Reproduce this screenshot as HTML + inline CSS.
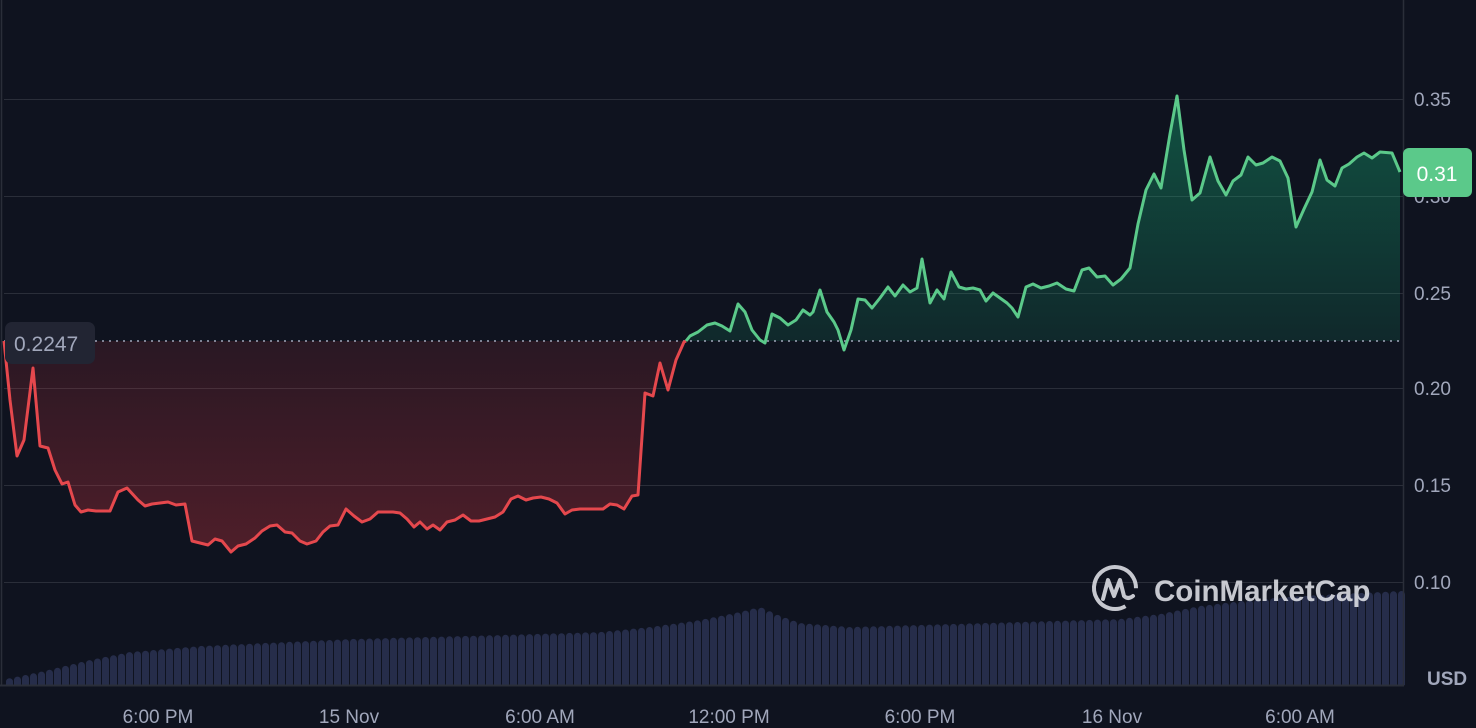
<!DOCTYPE html>
<html><head><meta charset="utf-8"><style>
html,body{margin:0;padding:0;background:#0f131f;}
svg{display:block}
text{font-family:"Liberation Sans",sans-serif;}
</style></head><body>
<svg id="s" width="1476" height="728" viewBox="0 0 1476 728" xmlns="http://www.w3.org/2000/svg">
<defs>
<linearGradient id="gr" x1="0" y1="341" x2="0" y2="560" gradientUnits="userSpaceOnUse">
<stop offset="0" stop-color="#ea3943" stop-opacity="0.12"/><stop offset="1" stop-color="#ea3943" stop-opacity="0.3"/></linearGradient>
<linearGradient id="gg" x1="0" y1="96" x2="0" y2="341" gradientUnits="userSpaceOnUse">
<stop offset="0" stop-color="#16c784" stop-opacity="0.35"/><stop offset="1" stop-color="#16c784" stop-opacity="0.12"/></linearGradient>
</defs>
<rect width="1476" height="728" fill="#0f131f"/>
<g stroke="#2a2e39" stroke-width="1">
<line x1="4" y1="99.5" x2="1403" y2="99.5"/><line x1="4" y1="196.5" x2="1403" y2="196.5"/>
<line x1="4" y1="293.5" x2="1403" y2="293.5"/><line x1="4" y1="388.5" x2="1403" y2="388.5"/>
<line x1="4" y1="485.5" x2="1403" y2="485.5"/><line x1="4" y1="582.5" x2="1403" y2="582.5"/>
</g>
<g id="vol" fill="#262d4a"></g>
<line x1="0" y1="685.5" x2="1404" y2="685.5" stroke="#2a2e39" stroke-width="2"/>
<line x1="1403.5" y1="0" x2="1403.5" y2="686" stroke="#2a2e39" stroke-width="1.5"/>
<line x1="1.5" y1="0" x2="1.5" y2="686" stroke="#2a2e39" stroke-width="1.5"/>
<path id="rf" fill="url(#gr)"/>
<path id="gf" fill="url(#gg)"/>
<line x1="4" y1="341" x2="1403" y2="341" stroke="#a1a7bb" stroke-width="1.5" stroke-dasharray="2 5"/>
<polyline id="rl" fill="none" stroke="#e5484d" stroke-width="3" stroke-linejoin="round"/>
<polyline id="gl" fill="none" stroke="#5bc98a" stroke-width="3" stroke-linejoin="round"/>
<g fill="#a1a7bb" font-size="19">
<text x="1414" y="106">0.35</text><text x="1414" y="203">0.30</text><text x="1414" y="300">0.25</text>
<text x="1414" y="395">0.20</text><text x="1414" y="492">0.15</text><text x="1414" y="589">0.10</text>
<text x="1427" y="685" font-weight="bold" font-size="19">USD</text>
</g>
<g fill="#a1a7bb" font-size="19" text-anchor="middle">
<text x="158" y="723">6:00 PM</text><text x="349" y="723">15 Nov</text><text x="540" y="723">6:00 AM</text>
<text x="729" y="723">12:00 PM</text><text x="920" y="723">6:00 PM</text><text x="1112" y="723">16 Nov</text><text x="1300" y="723">6:00 AM</text>
</g>
<rect x="1403" y="148" width="69" height="49" rx="6" fill="#5bc98a"/>
<text x="1437" y="181" text-anchor="middle" fill="#fff" font-size="21">0.31</text>
<rect x="5" y="322" width="90" height="42" rx="7" fill="#222533"/>
<text x="14" y="351" fill="#a1a7bb" font-size="21">0.2247</text>
<g opacity="0.85">
<circle cx="1115" cy="588" r="21" fill="none" stroke="#e6e8ee" stroke-width="4" stroke-dasharray="110 22" transform="rotate(60 1115 588)"/>
<path d="M1103 599 L1108 580 L1114 596 L1120 580 L1124 596 Q1128 600 1133 596" fill="none" stroke="#e6e8ee" stroke-width="4" stroke-linejoin="round" stroke-linecap="round"/>
<text x="1154" y="601" fill="#e6e8ee" font-size="29.5" font-weight="bold">CoinMarketCap</text>
</g>
</svg>
<script>
var R=[[4,341],[10,400],[17,456],[24,440],[33,368],[40,446],[48,448],[55,470],[62,484],[68,482],[75,505],[81,512],[88,510],[96,511],[110,511],[118,492],[127,488],[138,500],[145,506],[152,504],[168,502],[176,505],[185,504],[192,541],[200,543],[208,545],[215,539],[222,541],[231,552],[238,546],[246,544],[255,538],[262,531],[270,526],[277,525],[285,532],[292,533],[300,541],[307,544],[316,541],[323,532],[330,526],[338,525],[346,509],[354,516],[362,522],[370,519],[378,512],[393,512],[400,513],[407,519],[414,527],[420,522],[427,529],[433,525],[440,530],[447,522],[455,520],[463,515],[471,521],[479,521],[487,519],[495,517],[503,512],[511,499],[518,496],[526,500],[533,498],[541,497],[549,499],[557,503],[565,514],[572,510],[580,509],[593,509],[603,509],[610,504],[617,505],[624,509],[632,496],[638,495],[645,393],[653,396],[660,363],[668,390],[676,360],[684,342],[686,341]];
var G=[[686,341],[690,336],[698,332],[707,325],[715,323],[722,326],[730,331],[738,304],[745,312],[752,330],[760,340],[765,343],[772,314],[780,318],[788,325],[796,320],[803,310],[810,315],[813,312],[820,290],[827,312],[834,322],[838,330],[844,350],[851,330],[858,299],[865,300],[872,308],[880,298],[888,287],[895,296],[903,285],[910,292],[917,288],[922,259],[930,303],[937,290],[944,299],[951,272],[959,287],[966,289],[973,288],[980,290],[986,301],[993,293],[1000,298],[1007,303],[1012,308],[1018,317],[1026,287],[1033,284],[1041,288],[1049,286],[1057,283],[1066,289],[1074,291],[1082,270],[1089,268],[1097,277],[1105,276],[1113,285],[1121,279],[1130,268],[1138,224],[1146,190],[1154,174],[1161,188],[1170,134],[1177,96],[1184,150],[1192,200],[1200,193],[1210,157],[1218,181],[1226,195],[1233,181],[1241,175],[1248,157],[1256,165],[1263,163],[1272,157],[1280,161],[1288,178],[1296,227],[1304,209],[1312,192],[1320,160],[1327,180],[1335,186],[1342,168],[1349,164],[1357,157],[1364,153],[1372,158],[1380,152],[1392,153],[1400,172]];
function pts(a){return a.map(p=>p.join(',')).join(' ');}
document.getElementById('rl').setAttribute('points',pts(R));
document.getElementById('gl').setAttribute('points',pts(G));
document.getElementById('rf').setAttribute('d','M'+pts(R)+' L686,341 L4,341Z');
document.getElementById('gf').setAttribute('d','M'+pts(G)+' L1400,341 L686,341Z');
var K=[[6,679],[40,672],[90,660],[130,652],[200,646],[350,639],[500,635],[600,632],[650,627],[700,620],[740,612],[760,607],[780,616],[800,623],[850,627],[950,624],[1050,621],[1120,619],[1160,614],[1200,606],[1250,600],[1300,596],[1400,591]];
function f(x){for(var i=0;i<K.length-1;i++){if(x<=K[i+1][0]){var t=(x-K[i][0])/(K[i+1][0]-K[i][0]);return K[i][1]+t*(K[i+1][1]-K[i][1]);}}return K[K.length-1][1];}
var g=document.getElementById('vol'),h='';
for(var x=6;x<1400;x+=8){var y=f(x+3.5);h+='<rect x="'+x+'" y="'+y.toFixed(1)+'" width="7" height="'+(685-y).toFixed(1)+'" rx="3.5"/><rect x="'+x+'" y="'+(y+4).toFixed(1)+'" width="7" height="'+(681-y).toFixed(1)+'"/>';}
g.innerHTML=h;
</script>
</body></html>
